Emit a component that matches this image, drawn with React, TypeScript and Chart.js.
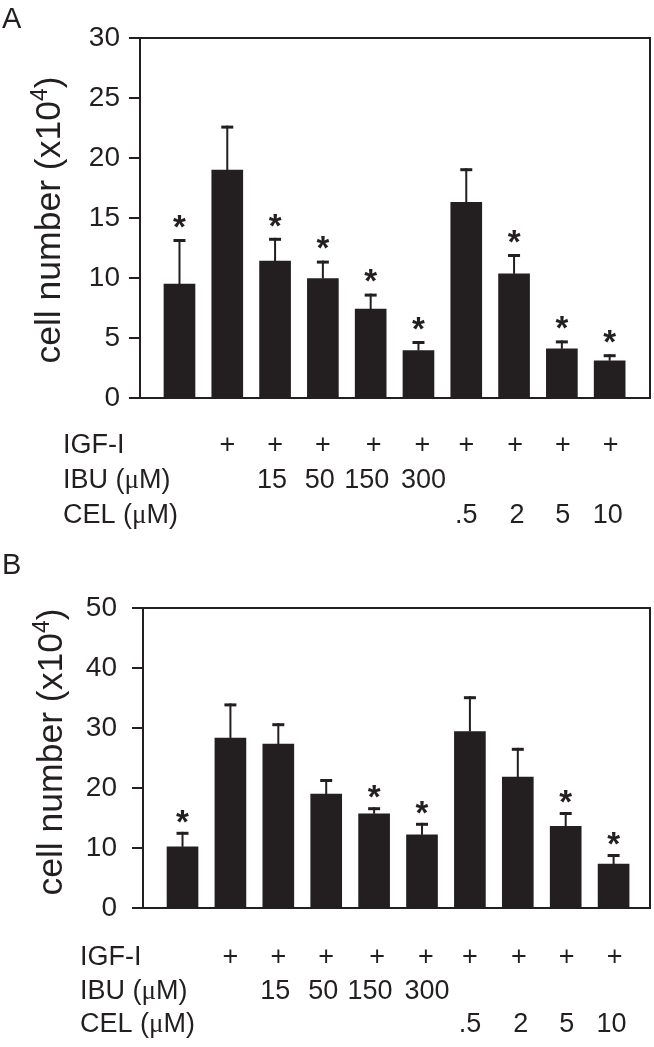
import React, { useEffect, useRef } from "react";
import { Chart, registerables } from "chart.js";

Chart.register(...registerables);

// ---------- data ----------
const IGF_ROW = ["", "+", "+", "+", "+", "+", "+", "+", "+", "+"];
const IBU_ROW = ["", "", "15", "50", "150", "300", "", "", "", ""];
const CEL_ROW = ["", "", "", "", "", "", ".5", "2", "5", "10"];

const A_VALUES = [9.5, 19.0, 11.4, 9.95, 7.4, 3.95, 16.3, 10.35, 4.1, 3.1];
const A_ERRORS = [3.75, 3.7, 1.95, 1.5, 1.3, 0.8, 2.85, 1.65, 0.7, 0.55];
const A_SIG = [true, false, true, true, true, true, false, true, true, true];
const A_MAX = 30;
const A_STEP = 5;

const B_VALUES = [10.2, 28.3, 27.3, 19.0, 15.7, 12.2, 29.4, 21.8, 13.6, 7.3];
const B_ERRORS = [2.5, 5.8, 3.5, 2.5, 1.1, 2.0, 5.9, 4.9, 2.4, 1.7];
const B_SIG = [true, false, false, false, true, true, false, false, true, true];
const B_MAX = 50;
const B_STEP = 10;

// ---------- style ----------
const INK = "#231f20";
const SANS = "'Liberation Sans', Arial, Helvetica, sans-serif";
const SERIF = "'Liberation Serif', 'Times New Roman', serif";
const W = 654;
// small horizontal nudges of the table text per row (layout only)
const ROW_NUDGE = [
  [0, 0, 0, 0, 3, 4, 0, 1, 1, 1],
  [0, 0, -3, -3, -4, 5, 0, 0, 0, 0],
  [0, 0, 0, 0, 0, 0, 0, 3, 1, -2],
];

type Seg = { text: string; font: string; dy?: number };

function drawSegs(ctx: CanvasRenderingContext2D, x: number, y: number, segs: Seg[]) {
  let cx = x;
  for (const s of segs) {
    ctx.font = s.font;
    ctx.fillText(s.text, cx, y + (s.dy || 0));
    cx += ctx.measureText(s.text).width;
  }
}

type PanelCfg = {
  letter: string;
  values: number[];
  errors: number[];
  sig: boolean[];
  yMax: number;
  yStep: number;
  top: number;
  height: number;
  area: { left: number; top: number; right: number; bottom: number };
  xMin: number;
  xMax: number;
  tickPad: number;
  titleX: number;
  titleDy: number;
  starGap: number;
  letterY: number;
  rowX: number;
  rowY: number[];
};

const PANEL_A: PanelCfg = {
  letter: "A",
  values: A_VALUES,
  errors: A_ERRORS,
  sig: A_SIG,
  yMax: A_MAX,
  yStep: A_STEP,
  top: 0,
  height: 550,
  area: { left: 140, top: 38, right: 650, bottom: 398 },
  xMin: 0.174,
  xMax: 10.844,
  tickPad: 9,
  titleX: 60,
  titleDy: 2,
  starGap: 20,
  letterY: 28,
  rowX: 63,
  rowY: [453, 488, 523],
};

const PANEL_B: PanelCfg = {
  letter: "B",
  values: B_VALUES,
  errors: B_ERRORS,
  sig: B_SIG,
  yMax: B_MAX,
  yStep: B_STEP,
  top: 550,
  height: 497,
  area: { left: 143, top: 58, right: 650, bottom: 358 },
  xMin: 0.175,
  xMax: 10.76,
  tickPad: 15,
  titleX: 62,
  titleDy: -6,
  starGap: 18,
  letterY: 24,
  rowX: 80,
  rowY: [415, 449, 482],
};

function makePlugin(cfg: PanelCfg) {
  return {
    id: "panelExtras" + cfg.letter,
    afterDraw(chart: any) {
      const ctx: CanvasRenderingContext2D = chart.ctx;
      const ca = chart.chartArea;
      const ys = chart.scales.y;
      const meta = chart.getDatasetMeta(0);
      ctx.save();
      ctx.fillStyle = INK;

      // frame (four sides as filled strips)
      const L = Math.round(ca.left);
      const T = Math.round(ca.top);
      const R = Math.round(ca.right);
      const B = Math.round(ca.bottom);
      ctx.fillRect(L - 1, T - 1, R - L + 2, 2);
      ctx.fillRect(L - 1, B - 1, R - L + 2, 2);
      ctx.fillRect(L - 1, T - 1, 2, B - T + 2);
      ctx.fillRect(R - 1, T - 1, 2, B - T + 2);

      // error bars + asterisks
      cfg.values.forEach((v, i) => {
        const el = meta.data[i];
        const x = el.x;
        const yBar = ys.getPixelForValue(v);
        const yTop = ys.getPixelForValue(v + cfg.errors[i]);
        ctx.fillRect(x - 1, yTop, 2, yBar - yTop);
        ctx.fillRect(x - 6, yTop, 12, 3);
        if (cfg.sig[i]) {
          const fs = 33;
          ctx.font = `bold ${fs}px ${SANS}`;
          ctx.textAlign = "center";
          ctx.textBaseline = "alphabetic";
          const cy = yTop - cfg.starGap;
          ctx.fillText("*", x, cy + 0.57 * fs);
        }
      });

      // y-axis title with superscript
      ctx.textAlign = "left";
      ctx.textBaseline = "alphabetic";
      const tf = 35.5;
      const segs: Seg[] = [
        { text: "cell number (x10", font: `${tf}px ${SANS}` },
        { text: "4", font: `${Math.round(tf * 0.65)}px ${SANS}`, dy: -tf * 0.38 },
        { text: ")", font: `${tf}px ${SANS}` },
      ];
      let total = 0;
      for (const s of segs) {
        ctx.font = s.font;
        total += ctx.measureText(s.text).width;
      }
      ctx.save();
      ctx.translate(cfg.titleX, (ca.top + ca.bottom) / 2 + cfg.titleDy);
      ctx.rotate(-Math.PI / 2);
      drawSegs(ctx, -total / 2, 0, segs);
      ctx.restore();

      // panel letter
      ctx.font = `29px ${SANS}`;
      ctx.fillText(cfg.letter, 2, cfg.letterY);

      // table row labels
      const f = `27px ${SANS}`;
      const mu = `27px ${SERIF}`;
      drawSegs(ctx, cfg.rowX, cfg.rowY[0], [{ text: "IGF-I", font: f }]);
      drawSegs(ctx, cfg.rowX, cfg.rowY[1], [
        { text: "IBU (", font: f },
        { text: "\u03bc", font: mu },
        { text: "M)", font: f },
      ]);
      drawSegs(ctx, cfg.rowX, cfg.rowY[2], [
        { text: "CEL (", font: f },
        { text: "\u03bc", font: mu },
        { text: "M)", font: f },
      ]);

      // table columns, under each bar
      ctx.font = f;
      ctx.textAlign = "center";
      const rows = [IGF_ROW, IBU_ROW, CEL_ROW];
      rows.forEach((row, r) => {
        row.forEach((txt, i) => {
          if (!txt) return;
          ctx.fillText(txt, meta.data[i].x + ROW_NUDGE[r][i], cfg.rowY[r]);
        });
      });
      ctx.restore();
    },
  };
}

function Panel({ cfg }: { cfg: PanelCfg }) {
  const ref = useRef<HTMLCanvasElement | null>(null);
  useEffect(() => {
    if (!ref.current) return;
    const chart = new Chart(ref.current, {
      type: "bar",
      data: {
        datasets: [
          {
            data: cfg.values.map((v, i) => ({ x: i + 1, y: v })),
            backgroundColor: INK,
            borderWidth: 0,
            barThickness: 31,
          },
        ],
      },
      options: {
        animation: false,
        responsive: false,
        events: [],
        layout: {
          padding: {
            left: 0,
            top: cfg.area.top,
            right: W - cfg.area.right,
            bottom: cfg.height - cfg.area.bottom,
          },
        },
        scales: {
          x: { type: "linear", offset: false, min: cfg.xMin, max: cfg.xMax, display: false },
          y: {
            position: "left",
            min: 0,
            max: cfg.yMax,
            afterFit: (s: any) => {
              s.width = cfg.area.left;
            },
            ticks: {
              stepSize: cfg.yStep,
              color: INK,
              padding: cfg.tickPad,
              font: { family: SANS, size: 28 },
            },
            grid: {
              drawOnChartArea: false,
              drawTicks: true,
              tickLength: 11,
              color: INK,
              lineWidth: 2,
            },
            border: { display: true, color: INK, width: 2 },
          },
        },
        plugins: { legend: { display: false }, tooltip: { enabled: false } },
      } as any,
      plugins: [makePlugin(cfg)],
    });
    return () => chart.destroy();
  }, [cfg]);
  return (
    <canvas
      ref={ref}
      width={W}
      height={cfg.height}
      style={{ position: "absolute", left: 0, top: cfg.top, width: W, height: cfg.height, display: "block" }}
    />
  );
}

export default function App() {
  return (
    <div style={{ position: "absolute", left: 0, top: 0, width: W, height: 1047, background: "#fff" }}>
      <Panel cfg={PANEL_A} />
      <Panel cfg={PANEL_B} />
    </div>
  );
}
